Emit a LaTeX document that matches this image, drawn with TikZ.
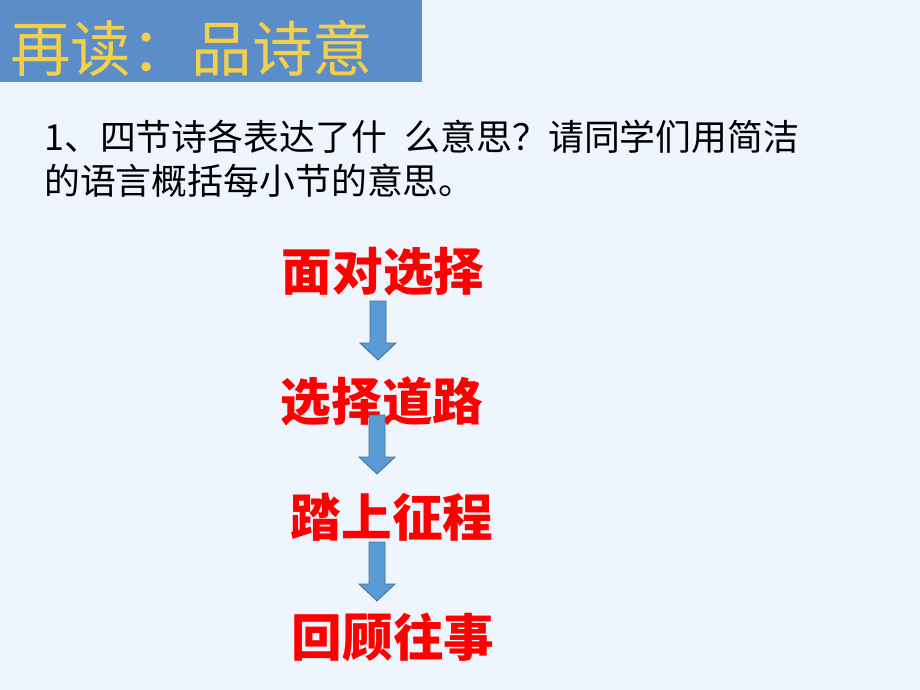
\documentclass[tikz,border=0pt]{standalone}
\usepackage{fontspec}
\setmainfont{Noto Sans CJK SC}
\newfontfamily\cjk{Noto Sans CJK SC}
\definecolor{pagebg}{HTML}{EEF5FC}
\definecolor{titlebg}{HTML}{5B8DC8}
\definecolor{titletext}{HTML}{F4D04A}
\definecolor{arrowfill}{HTML}{5B9BD5}
\definecolor{arrowline}{HTML}{41719C}
\tikzset{
  title/.style={anchor=west,inner sep=0pt,text=titletext,font=\cjk\fontsize{43}{43}\selectfont},
  question/.style={anchor=west,inner sep=0pt,font=\cjk\fontsize{25.5}{25.5}\selectfont},
  stage/.style={inner sep=0pt,text=red,font=\cjk\bfseries\fontsize{36}{36}\selectfont},
  downarrow/.pic={\draw[fill=arrowfill,draw=arrowline,line width=0.6pt]
    (-8,0) -- (8,0) -- (8,42) -- (18,42) -- (0,59) -- (-18,42) -- (-8,42) -- cycle;}
}
\begin{document}
\begin{tikzpicture}[x=0.025cm,y=-0.025cm]
\fill[pagebg] (0,0) rectangle (920,690);
\useasboundingbox (0,0) rectangle (920,690);
% title bar
\fill[titlebg] (0,0) rectangle (422,82);
\node[title] (head) at (10,48) {再读：品诗意};
% question
\node[question] (q1) at (44,137) {1、四节诗各表达了什\hspace{0.5em}么意思？请同学们用简洁};
\node[question] (q2) at (44,181) {的语言概括每小节的意思。};
% four stages
\node[stage] (s1) at (383,272) {面对选择};
\node[stage] (s2) at (382,401) {选择道路};
\node[stage] (s3) at (392,517) {踏上征程};
\node[stage] (s4) at (393,637) {回顾往事};
\pic at (378,301) {downarrow};
\pic at (377,415) {downarrow};
\pic at (377,542) {downarrow};
\end{tikzpicture}
\end{document}
